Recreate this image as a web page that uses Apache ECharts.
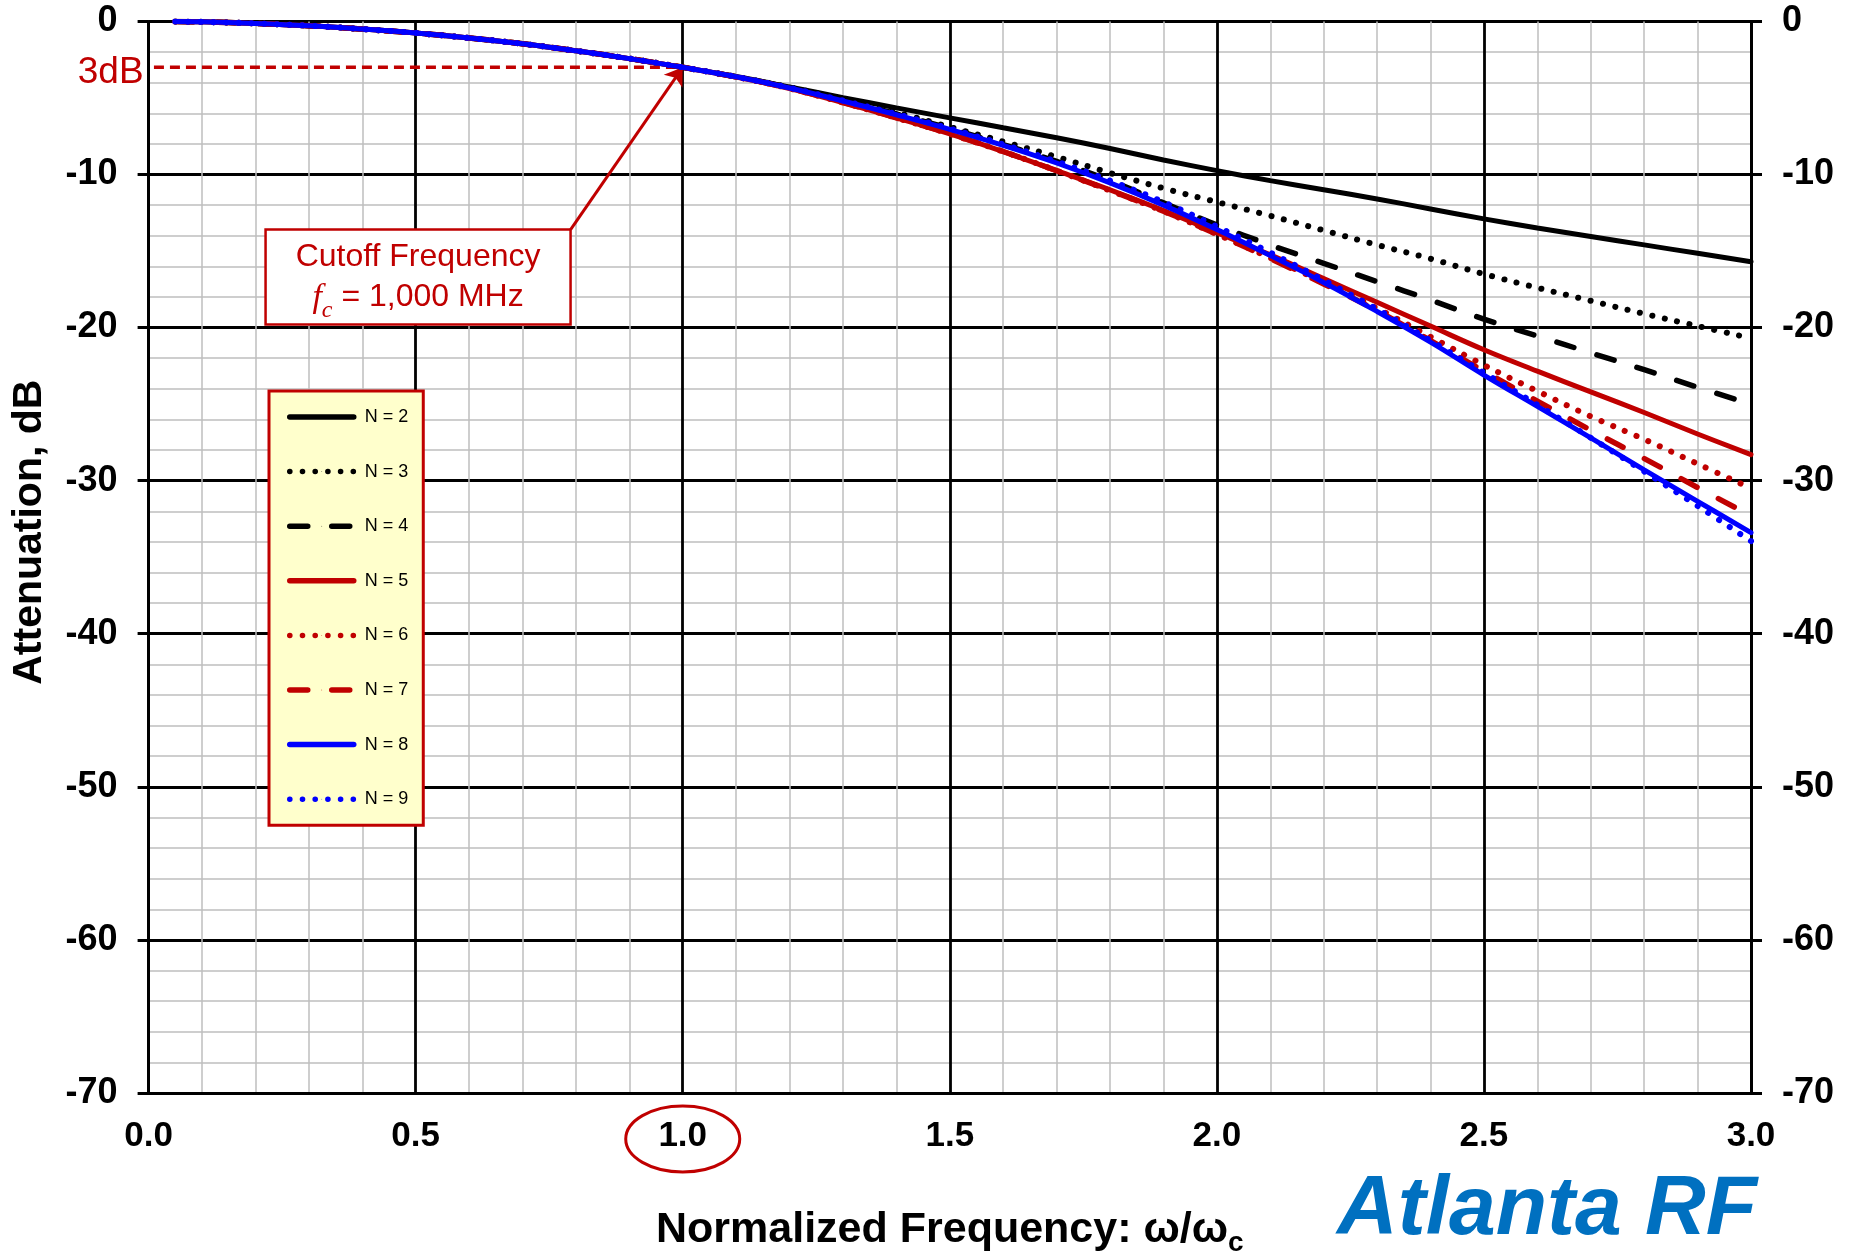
<!DOCTYPE html>
<html><head><meta charset="utf-8">
<script src="https://cdn.jsdelivr.net/npm/echarts@6/dist/echarts.min.js"></script>
<style>html,body{margin:0;padding:0;background:#fff}#c{width:1849px;height:1254px}</style>
</head><body><div id="c"></div>
<script>
// ---------- data ----------
const freq = [0.05,0.1,0.2,0.3,0.4,0.5,0.6,0.7,0.8,0.9,1.0,1.1,1.2,1.3,1.4,1.5,1.6,1.7,1.8,1.9,2.0,2.1,2.2,2.3,2.4,2.5,2.6,2.7,2.8,2.9,3.0];
const n2 = [-0.01,-0.03,-0.13,-0.28,-0.5,-0.76,-1.08,-1.46,-1.92,-2.43,-3.0,-3.6,-4.28,-4.98,-5.65,-6.3,-6.95,-7.6,-8.3,-9.05,-9.75,-10.4,-11.0,-11.6,-12.25,-12.9,-13.5,-14.05,-14.6,-15.15,-15.7];
const n3 = [-0.01,-0.03,-0.13,-0.28,-0.5,-0.76,-1.08,-1.46,-1.92,-2.43,-3.0,-3.62,-4.3,-5.1,-5.95,-6.9,-7.85,-8.85,-9.9,-10.9,-11.8,-12.7,-13.65,-14.6,-15.5,-16.5,-17.4,-18.25,-19.1,-19.9,-20.7];
const n4 = [-0.01,-0.03,-0.13,-0.28,-0.5,-0.76,-1.08,-1.46,-1.92,-2.43,-3.0,-3.62,-4.32,-5.15,-6.05,-7.0,-8.05,-9.15,-10.4,-11.85,-13.3,-14.6,-15.8,-17.0,-18.2,-19.45,-20.55,-21.65,-22.75,-23.9,-25.0];
const n5 = [-0.01,-0.03,-0.13,-0.28,-0.5,-0.76,-1.08,-1.46,-1.92,-2.43,-3.0,-3.63,-4.38,-5.3,-6.3,-7.35,-8.5,-9.75,-11.0,-12.35,-13.8,-15.25,-16.8,-18.35,-19.9,-21.45,-22.85,-24.2,-25.55,-26.95,-28.3];
const n6 = [-0.01,-0.03,-0.13,-0.28,-0.5,-0.76,-1.08,-1.46,-1.92,-2.43,-3.0,-3.63,-4.38,-5.3,-6.3,-7.35,-8.5,-9.75,-11.05,-12.4,-13.9,-15.45,-17.05,-18.75,-20.6,-22.45,-24.15,-25.8,-27.3,-28.9,-30.5];
const n7 = [-0.01,-0.03,-0.13,-0.28,-0.5,-0.76,-1.08,-1.46,-1.92,-2.43,-3.0,-3.63,-4.38,-5.3,-6.3,-7.35,-8.5,-9.75,-11.05,-12.4,-13.9,-15.5,-17.15,-18.9,-20.85,-22.85,-24.8,-26.7,-28.55,-30.45,-32.3];
const n8 = [-0.01,-0.03,-0.13,-0.28,-0.5,-0.76,-1.08,-1.46,-1.92,-2.43,-3.0,-3.62,-4.35,-5.2,-6.1,-7.05,-8.1,-9.25,-10.55,-12.0,-13.6,-15.3,-17.05,-18.95,-20.95,-23.1,-25.15,-27.2,-29.3,-31.35,-33.4];
const n9 = [-0.01,-0.03,-0.13,-0.28,-0.5,-0.76,-1.08,-1.46,-1.92,-2.43,-3.0,-3.62,-4.33,-5.17,-6.05,-7.0,-8.03,-9.15,-10.4,-11.8,-13.4,-15.1,-16.9,-18.8,-20.85,-22.95,-25.05,-27.2,-29.4,-31.65,-33.95];
const seriesNames = ['N = 2','N = 3','N = 4','N = 5','N = 6','N = 7','N = 8','N = 9'];
const xTicks = [0, 3, 0.5];      // min, max, interval
const yTicks = [-70, 0, 10];     // min, max, interval
const refLineX = [0.01, 1.0];    // 3 dB reference line extent
const refLineDb = -3;
const arrowFrom = [0.79, -13.6];
const arrowTo = [1.0, -3.0];

// ---------- styles ----------
const FONT = "'Liberation Sans', Arial, sans-serif";
const RED = '#C00000', BLUE = '#0000FF', BLACK = '#000000';
const solid = c => ({color: c, width: 5, type: 'solid', cap: 'round'});
const dotted = c => ({color: c, width: 6, type: [0.1, 12.6], cap: 'round'});
const dashed = c => ({color: c, width: 5.5, type: [18, 24], cap: 'round'});
const styles = [solid(BLACK), dotted(BLACK), dashed(BLACK), solid(RED), dotted(RED), dashed(RED), solid(BLUE), dotted(BLUE)];
const values = [n2, n3, n4, n5, n6, n7, n8, n9];

const chart = echarts.init(document.getElementById('c'), null, {renderer: 'canvas'});

const curveSeries = values.map((vals, i) => ({
  name: seriesNames[i],
  type: 'line',
  data: freq.map((x, k) => [x, vals[k]]),
  showSymbol: false,
  symbol: 'none',
  smooth: 0.4,
  lineStyle: styles[i],
  itemStyle: {color: styles[i].color},
  silent: true,
  z: 3 + i
}));

const refSeries = {
  name: '3dB',
  type: 'line',
  data: refLineX.map(x => [x, refLineDb]),
  showSymbol: false,
  symbol: 'none',
  lineStyle: {color: RED, width: 3.5, type: [10, 6]},
  silent: true,
  z: 2,
  markLine: {
    silent: true,
    symbol: ['none', 'arrow'],
    symbolSize: 17,
    label: {show: false},
    lineStyle: {color: RED, width: 3, type: 'solid'},
    data: [[{coord: arrowFrom}, {coord: arrowTo}]]
  }
};

const gridLeft = 148.6, gridRight = 98, gridTop = 21.4, gridBottom = 161;

const option = {
  animation: false,
  backgroundColor: '#fff',
  grid: {left: gridLeft, right: gridRight, top: gridTop, bottom: gridBottom, containLabel: false, outerBoundsMode: 'none'},
  legend: {
    data: seriesNames,
    orient: 'vertical',
    left: 269, top: 391,
    itemWidth: 64, itemHeight: 1, itemGap: 36.6,
    padding: [17, 15, 17, 18],
    backgroundColor: '#FFFFCC',
    borderColor: RED, borderWidth: 3, borderRadius: 0,
    lineStyle: {width: 5.5, cap: 'round'},
    textStyle: {fontSize: 18, color: '#000', fontFamily: FONT, lineHeight: 18, padding: [0, 0, 0, 6]},
    selectedMode: false
  },
  xAxis: {
    type: 'value', min: xTicks[0], max: xTicks[1], interval: xTicks[2],
    axisLine: {show: true, onZero: false, lineStyle: {color: '#000', width: 3}},
    axisTick: {show: false},
    minorTick: {show: false, splitNumber: 5},
    axisLabel: {formatter: v => v.toFixed(1), fontSize: 35, fontWeight: 'bold', color: '#000', margin: 26, fontFamily: FONT},
    splitLine: {show: true, lineStyle: {color: '#000', width: 2.8}},
    minorSplitLine: {show: true, lineStyle: {color: '#BFBFBF', width: 1.5}},
    name: '{a|Normalized Frequency: \u03C9/\u03C9}{s|c}',
    nameLocation: 'middle', nameGap: 116,
    nameTextStyle: {
      fontFamily: FONT, fontWeight: 'bold', color: '#000',
      rich: {
        a: {fontSize: 43, fontWeight: 'bold', fontFamily: FONT, color: '#000', lineHeight: 44, verticalAlign: 'top'},
        s: {fontSize: 28, fontWeight: 'bold', fontFamily: FONT, color: '#000', lineHeight: 28, verticalAlign: 'top', padding: [20, 0, 0, 0]}
      }
    }
  },
  yAxis: [{
    type: 'value', min: yTicks[0], max: yTicks[1], interval: yTicks[2], position: 'left',
    axisLine: {show: true, onZero: false, lineStyle: {color: '#000', width: 3}},
    axisTick: {show: true, inside: false, length: 11, lineStyle: {color: '#000', width: 3}},
    minorTick: {show: false, splitNumber: 5},
    axisLabel: {fontSize: 36, fontWeight: 'bold', color: '#000', margin: 31, fontFamily: FONT},
    splitLine: {show: true, lineStyle: {color: '#000', width: 2.8}},
    minorSplitLine: {show: true, lineStyle: {color: '#BFBFBF', width: 1.5}},
    name: 'Attenuation, dB',
    nameLocation: 'middle', nameGap: 98,
    nameTextStyle: {fontSize: 41, fontWeight: 'bold', color: '#000', fontFamily: FONT, padding: [0, 0, 0, 50]}
  }, {
    type: 'value', min: yTicks[0], max: yTicks[1], interval: yTicks[2], position: 'right',
    axisLine: {show: true, onZero: false, lineStyle: {color: '#000', width: 3}},
    axisTick: {show: true, inside: false, length: 11, lineStyle: {color: '#000', width: 3}},
    axisLabel: {fontSize: 36, fontWeight: 'bold', color: '#000', margin: 31, fontFamily: FONT},
    splitLine: {show: false}
  }],
  series: [refSeries, ...curveSeries]
};
chart.setOption(option);

// ---------- annotations placed from data coordinates ----------
const pFrom = chart.convertToPixel({xAxisIndex: 0, yAxisIndex: 0}, arrowFrom);
const pRef = chart.convertToPixel({xAxisIndex: 0, yAxisIndex: 0}, [arrowTo[0], refLineDb]);
const boxW = 305, boxH = 95;
const bottomY = 1254 - gridBottom;

chart.setOption({
  graphic: [
    {
      type: 'rect', z: 50,
      shape: {x: pFrom[0] - boxW, y: pFrom[1], width: boxW, height: boxH},
      style: {fill: '#FFFFFF', stroke: RED, lineWidth: 2.5}
    },
    {
      type: 'text', z: 51,
      style: {
        x: pFrom[0] - boxW / 2, y: pFrom[1] + boxH / 2 + 2,
        align: 'center', verticalAlign: 'middle',
        text: '{a|Cutoff Frequency}\n{f|f}{c|c}{b| = 1,000 MHz}',
        rich: {
          a: {fontSize: 32, fontFamily: FONT, fill: RED, lineHeight: 40, verticalAlign: 'top', align: 'center'},
          f: {fontSize: 34, fontFamily: "'Liberation Serif', 'Times New Roman', serif", fontStyle: 'italic', fill: RED, lineHeight: 36, verticalAlign: 'top'},
          c: {fontSize: 24, fontFamily: "'Liberation Serif', 'Times New Roman', serif", fontStyle: 'italic', fill: RED, lineHeight: 24, verticalAlign: 'top', padding: [18, 0, 0, 0]},
          b: {fontSize: 32, fontFamily: FONT, fill: RED, lineHeight: 36, verticalAlign: 'top'}
        }
      }
    },
    {
      type: 'text', z: 50,
      style: {x: gridLeft - 5, y: pRef[1] + 5, align: 'right', verticalAlign: 'middle',
        text: '3dB', fontSize: 37, fontFamily: FONT, fill: RED}
    },
    {
      type: 'ellipse', z: 50,
      shape: {cx: pRef[0], cy: bottomY + 46, rx: 57, ry: 33},
      style: {fill: 'none', stroke: RED, lineWidth: 3}
    },
    {
      type: 'text', z: 50,
      style: {x: 1757, y: 1211, align: 'right', verticalAlign: 'middle',
        text: 'Atlanta RF', fontSize: 84, fontWeight: 'bold', fontStyle: 'italic', fontFamily: FONT, fill: '#0070C0'}
    }
  ]
});
</script>
</body></html>
